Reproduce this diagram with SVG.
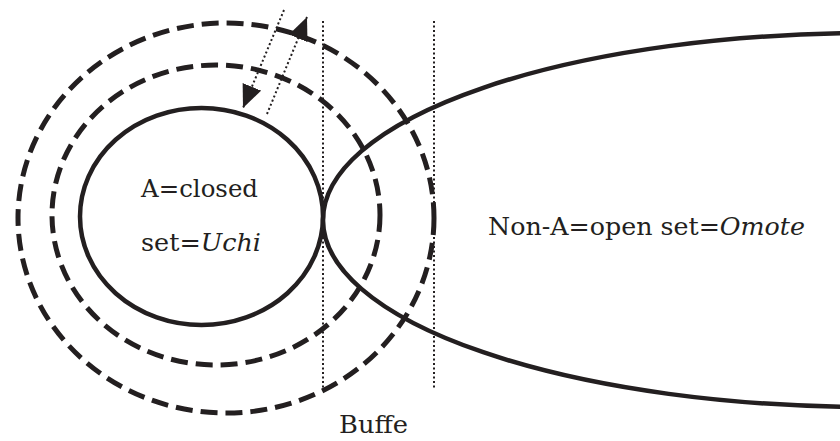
<svg xmlns="http://www.w3.org/2000/svg" width="840" height="441" viewBox="0 0 840 441">
<defs>
<style>
.solid{fill:none;stroke:#231f20;stroke-width:4.5}
.dash{fill:none;stroke:#231f20;stroke-width:5;stroke-dasharray:17 8}
.dot{fill:none;stroke:#231f20;stroke-width:2;stroke-dasharray:2 2.5}
.t{font-family:"DejaVu Serif","Liberation Serif",serif;font-size:25px;fill:#231f20}
</style>
<marker id="ah" markerUnits="userSpaceOnUse" markerWidth="26" markerHeight="22" refX="23" refY="10" orient="auto">
<path d="M0,0 L23,10 L0,20 z" fill="#231f20"/>
</marker>
</defs>
<rect width="840" height="441" fill="#fff"/>
<g id="outer-buffer">
<ellipse class="dash" cx="226" cy="218" rx="208" ry="195"/>
</g>
<g id="inner-buffer">
<ellipse class="dash" cx="216" cy="215" rx="164" ry="150"/>
</g>
<g id="uchi">
<ellipse class="solid" cx="201.5" cy="216.5" rx="121.5" ry="108.5"/>
<text class="t" x="141" y="197" textLength="117" lengthAdjust="spacingAndGlyphs">A=closed</text>
<text class="t" x="141" y="251" textLength="120" lengthAdjust="spacingAndGlyphs">set=<tspan font-style="italic">Uchi</tspan></text>
</g>
<g id="omote">
<ellipse class="solid" cx="870" cy="220" rx="547" ry="187"/>
<text class="t" x="488" y="235" textLength="317" lengthAdjust="spacingAndGlyphs">Non-A=open set=<tspan font-style="italic">Omote</tspan></text>
</g>
<g id="buffer">
<line class="dot" x1="323" y1="21" x2="323" y2="390"/>
<line class="dot" x1="434" y1="21" x2="434" y2="390"/>
<text class="t" x="339" y="433" textLength="69" lengthAdjust="spacingAndGlyphs">Buffe</text>
</g>
<g id="connectors">
<line class="dot" x1="284" y1="10" x2="243" y2="108" marker-end="url(#ah)"/>
<line class="dot" x1="267" y1="114" x2="307" y2="17" marker-end="url(#ah)"/>
</g>
</svg>
